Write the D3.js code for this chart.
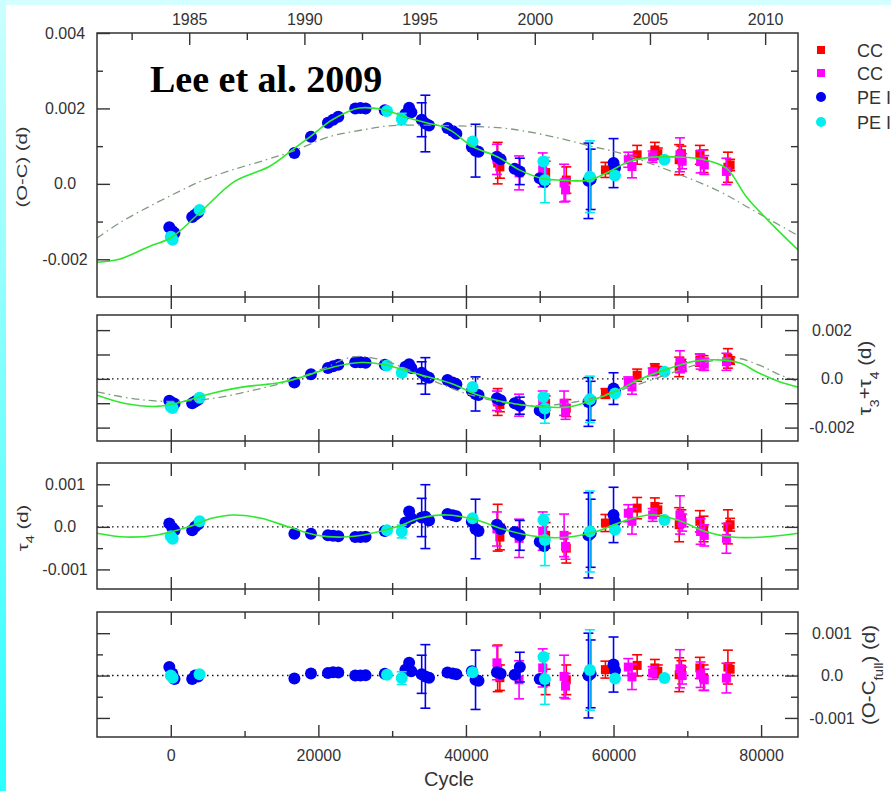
<!DOCTYPE html>
<html>
<head>
<meta charset="utf-8">
<script src="https://cdn.jsdelivr.net/npm/d3@7"></script>
<style>
html, body { margin: 0; padding: 0; background: #fff; }
svg { display: block; }
text { font-family: "Liberation Sans", Arial, Helvetica, sans-serif; fill: #333; }
</style>
</head>
<body>
<svg id="chart" width="891" height="791"></svg>
<script>
// ---- data (values in days) ----
const cycleDomain = [-10000, 85000];
const cycleMajor = [0, 20000, 40000, 60000, 80000];
const cycleMinor = [10000, 30000, 50000, 70000];
const yearMajor = [1985, 1990, 1995, 2000, 2005, 2010];
const yearMinor = [1982.5, 1987.5, 1992.5, 1997.5, 2002.5, 2007.5];
const epochYear = 1984.2, cyclesPerYear = 3122;

// CC (red squares)
const ccRedCycle = [44300, 44600, 50800, 53600, 58900, 63200, 65600, 66000, 68900, 69200, 71700, 72200, 75500, 75800];
const ccRedOC  = [0.55e-3, 0.45e-3, 0.30e-3, 0.10e-3, 0.37e-3, 0.77e-3, 0.90e-3, 0.80e-3, 0.64e-3, 0.80e-3, 0.77e-3, 0.60e-3, 0.44e-3, 0.50e-3];
const ccRedT34 = [-0.95e-3, -1.05e-3, -1.00e-3, -1.20e-3, -0.60e-3, 0.15e-3, 0.42e-3, 0.35e-3, 0.49e-3, 0.60e-3, 0.77e-3, 0.65e-3, 0.84e-3, 0.75e-3];
const ccRedT4  = [-0.02e-3, -0.24e-3, -0.20e-3, -0.50e-3, 0.09e-3, 0.44e-3, 0.48e-3, 0.40e-3, 0.05e-3, 0.20e-3, 0.13e-3, -0.05e-3, 0.00e-3, 0.05e-3];
const ccRedRes = [0.17e-3, -0.05e-3, -0.15e-3, -0.10e-3, 0.14e-3, 0.24e-3, 0.18e-3, 0.10e-3, 0.02e-3, 0.15e-3, 0.18e-3, -0.05e-3, 0.20e-3, 0.15e-3];
const ccRedErr = [0.55e-3, 0.30e-3, 0.30e-3, 0.35e-3, 0.20e-3, 0.25e-3, 0.20e-3, 0.15e-3, 0.40e-3, 0.20e-3, 0.25e-3, 0.30e-3, 0.40e-3, 0.15e-3];

// CC (magenta squares)
const ccMagCycle = [44200, 47200, 50400, 53300, 53500, 62000, 62500, 65300, 69000, 69300, 71800, 72300, 75300];
const ccMagOC  = [0.65e-3, 0.29e-3, 0.37e-3, 0.02e-3, -0.16e-3, 0.64e-3, 0.46e-3, 0.72e-3, 0.77e-3, 0.60e-3, 0.59e-3, 0.50e-3, 0.33e-3];
const ccMagT34 = [-0.90e-3, -1.08e-3, -0.95e-3, -1.00e-3, -1.36e-3, -0.12e-3, -0.33e-3, 0.29e-3, 0.70e-3, 0.50e-3, 0.70e-3, 0.60e-3, 0.70e-3];
const ccMagT4  = [-0.05e-3, -0.27e-3, -0.10e-3, -0.20e-3, -0.46e-3, 0.32e-3, 0.13e-3, 0.28e-3, 0.28e-3, 0.10e-3, -0.11e-3, -0.20e-3, -0.27e-3];
const ccMagRes = [0.30e-3, -0.10e-3, 0.18e-3, -0.02e-3, -0.25e-3, 0.20e-3, -0.03e-3, 0.06e-3, 0.16e-3, 0.00e-3, 0.02e-3, -0.10e-3, -0.06e-3];
const ccMagErr = [0.40e-3, 0.45e-3, 0.45e-3, 0.50e-3, 0.30e-3, 0.20e-3, 0.30e-3, 0.15e-3, 0.45e-3, 0.20e-3, 0.30e-3, 0.25e-3, 0.35e-3];

// PE (blue circles)
const peBlueCycle = [-200, 200, 500, 2900, 3300, 3700, 16750, 19000, 21300, 22000, 22700, 25000, 25700, 26400, 29000,
  31800, 32300, 32600, 34000, 34500, 35000, 37500, 38200, 38700, 40800, 41300, 41700, 44200, 44700, 46600, 47300,
  50000, 50600, 56600, 56900, 60000, 60200];
const peBlueOC = [-1.15e-3, -1.25e-3, -1.30e-3, -0.88e-3, -0.82e-3, -0.76e-3, 0.82e-3, 1.25e-3, 1.62e-3, 1.70e-3, 1.78e-3,
  2.00e-3, 2.01e-3, 2.00e-3, 1.95e-3, 1.85e-3, 2.02e-3, 1.90e-3, 1.70e-3, 1.60e-3, 1.55e-3, 1.48e-3, 1.40e-3, 1.33e-3,
  0.98e-3, 0.88e-3, 0.85e-3, 0.72e-3, 0.65e-3, 0.40e-3, 0.33e-3, 0.15e-3, 0.05e-3, 0.08e-3, 0.12e-3, 0.55e-3, 0.42e-3];
const peBlueT34 = [-0.90e-3, -0.98e-3, -1.02e-3, -1.00e-3, -0.93e-3, -0.86e-3, -0.15e-3, 0.19e-3, 0.45e-3, 0.52e-3, 0.58e-3,
  0.68e-3, 0.68e-3, 0.66e-3, 0.58e-3, 0.50e-3, 0.60e-3, 0.45e-3, 0.25e-3, 0.12e-3, 0.05e-3, -0.05e-3, -0.15e-3, -0.22e-3,
  -0.50e-3, -0.62e-3, -0.66e-3, -0.80e-3, -0.88e-3, -1.00e-3, -1.10e-3, -1.30e-3, -1.42e-3, -0.95e-3, -0.90e-3, -0.40e-3, -0.50e-3];
const peBlueT4 = [0.08e-3, -0.02e-3, -0.08e-3, -0.08e-3, 0.00e-3, 0.06e-3, -0.16e-3, -0.16e-3, -0.20e-3, -0.21e-3, -0.22e-3,
  -0.24e-3, -0.24e-3, -0.23e-3, -0.10e-3, 0.10e-3, 0.36e-3, 0.20e-3, 0.22e-3, 0.24e-3, 0.15e-3, 0.30e-3, 0.27e-3, 0.25e-3,
  0.12e-3, -0.05e-3, -0.10e-3, 0.05e-3, -0.05e-3, -0.12e-3, -0.20e-3, -0.35e-3, -0.45e-3, -0.20e-3, -0.15e-3, 0.28e-3, 0.12e-3];
const peBlueRes = [0.20e-3, 0.05e-3, -0.08e-3, -0.08e-3, 0.00e-3, -0.02e-3, -0.07e-3, 0.05e-3, 0.06e-3, 0.08e-3, 0.07e-3,
  0.00e-3, 0.00e-3, 0.01e-3, 0.04e-3, 0.14e-3, 0.30e-3, 0.10e-3, 0.03e-3, -0.02e-3, -0.05e-3, 0.07e-3, 0.05e-3, 0.03e-3,
  0.10e-3, -0.10e-3, -0.12e-3, 0.08e-3, 0.04e-3, 0.02e-3, 0.20e-3, -0.08e-3, -0.12e-3, 0.00e-3, 0.04e-3, 0.26e-3, 0.12e-3];
const peBlueErr = [0, 0, 0, 0, 0, 0, 0, 0, 0, 0, 0, 0, 0, 0, 0, 0, 0, 0, 0.45e-3, 0.75e-3, 0, 0, 0, 0,
  0, 0.70e-3, 0, 0, 0, 0, 0.35e-3, 0, 0, 1.00e-3, 0.80e-3, 0.65e-3, 0];

// PE (cyan circles)
const peCyanCycle = [0, 250, 3900, 29300, 31300, 40900, 50500, 50700, 56800, 60200, 66900];
const peCyanOC  = [-1.40e-3, -1.48e-3, -0.69e-3, 1.93e-3, 1.72e-3, 1.12e-3, 0.59e-3, 0.10e-3, 0.19e-3, 0.22e-3, 0.64e-3];
const peCyanT34 = [-1.15e-3, -1.20e-3, -0.78e-3, 0.55e-3, 0.25e-3, -0.33e-3, -0.74e-3, -1.22e-3, -0.84e-3, -0.60e-3, 0.29e-3];
const peCyanT4  = [-0.22e-3, -0.28e-3, 0.13e-3, -0.08e-3, -0.11e-3, 0.20e-3, 0.16e-3, -0.31e-3, -0.11e-3, -0.07e-3, 0.16e-3];
const peCyanRes = [0.00e-3, -0.05e-3, 0.03e-3, 0.02e-3, -0.06e-3, 0.08e-3, 0.44e-3, -0.08e-3, 0.13e-3, -0.07e-3, -0.06e-3];
const peCyanErr = [0, 0, 0, 0, 0.15e-3, 0, 0, 0.60e-3, 0.95e-3, 0, 0];

// fitted curves
const fitOCCycle = [-10000, -7000, -2900, 0, 3860, 8600, 13350, 16470, 18900, 21900, 25550, 28930, 31640, 34620, 36790,
  38150, 40860, 44250, 47230, 50210, 53600, 56720, 59430, 62140, 65260, 68920, 72030, 75280, 77990, 81110, 85000];
const fitOC = [-2.08e-3, -2.00e-3, -1.66e-3, -1.43e-3, -0.78e-3, 0.06e-3, 0.46e-3, 0.90e-3, 1.25e-3, 1.70e-3, 2.01e-3,
  1.96e-3, 1.78e-3, 1.62e-3, 1.52e-3, 1.39e-3, 0.99e-3, 0.72e-3, 0.37e-3, 0.15e-3, 0.09e-3, 0.10e-3, 0.33e-3, 0.59e-3,
  0.71e-3, 0.71e-3, 0.65e-3, 0.42e-3, -0.34e-3, -1.00e-3, -1.75e-3];
const longOCCycle = [-10000, -6980, -2910, 1150, 4540, 8340, 12950, 16470, 21490, 25960, 29620, 33690, 38700, 44940,
  48190, 52670, 57140, 60800, 68520, 74350, 78820, 85000];
const longOC = [-1.44e-3, -1.04e-3, -0.60e-3, -0.20e-3, 0.11e-3, 0.37e-3, 0.64e-3, 0.86e-3, 1.25e-3, 1.43e-3, 1.54e-3,
  1.56e-3, 1.54e-3, 1.48e-3, 1.39e-3, 1.21e-3, 0.99e-3, 0.82e-3, 0.28e-3, -0.20e-3, -0.69e-3, -1.37e-3];
const fitT34Cycle = [-10000, -6170, -1830, 1220, 5490, 9830, 14710, 17830, 22030, 25760, 28810, 33150, 38030, 41690,
  46570, 50300, 53970, 57050, 60130, 63800, 67470, 71140, 74860, 77400, 79300, 82400, 85000];
const fitT34 = [-0.67e-3, -1.01e-3, -1.13e-3, -0.97e-3, -0.60e-3, -0.33e-3, -0.16e-3, 0.08e-3, 0.49e-3, 0.67e-3, 0.59e-3,
  0.22e-3, -0.19e-3, -0.67e-3, -1.02e-3, -1.15e-3, -1.15e-3, -0.88e-3, -0.53e-3, 0.01e-3, 0.42e-3, 0.73e-3, 0.77e-3,
  0.62e-3, 0.30e-3, -0.11e-3, -0.34e-3];
const fitT3Cycle = [-10000, -4950, 0, 5290, 10710, 16130, 20880, 24670, 28330, 32400, 36470, 40530, 45280, 50020, 54770,
  58840, 62630, 66970, 71720, 76460, 79850, 82560, 85000];
const fitT3 = [-0.53e-3, -0.82e-3, -0.93e-3, -0.82e-3, -0.50e-3, -0.08e-3, 0.45e-3, 0.90e-3, 0.80e-3, 0.35e-3, -0.20e-3,
  -0.65e-3, -0.98e-3, -1.10e-3, -0.95e-3, -0.65e-3, -0.30e-3, 0.15e-3, 0.62e-3, 0.86e-3, 0.55e-3, 0.16e-3, -0.11e-3];
const fitT4Cycle = [-10000, -6130, -1830, 2440, 5520, 8580, 12270, 15930, 19590, 23280, 26950, 30640, 33700, 37390, 41070,
  45370, 49670, 53970, 57650, 61340, 65010, 68700, 72390, 76060, 80360, 85000];
const fitT4 = [-0.15e-3, -0.24e-3, -0.19e-3, 0.00e-3, 0.20e-3, 0.28e-3, 0.20e-3, 0.00e-3, -0.19e-3, -0.24e-3, -0.16e-3,
  0.00e-3, 0.20e-3, 0.28e-3, 0.18e-3, -0.07e-3, -0.23e-3, -0.24e-3, -0.11e-3, 0.13e-3, 0.28e-3, 0.16e-3, -0.11e-3,
  -0.24e-3, -0.24e-3, -0.15e-3];

// ---- drawing ----
const svg = d3.select('#chart');
const FONT = '"Liberation Sans", Arial, Helvetica, sans-serif';
const AX = '#333';

// cyan frame strips of the slide
const grad = svg.append('defs').append('linearGradient').attr('id', 'strip')
  .attr('x1', 0).attr('y1', 0).attr('x2', 0).attr('y2', 1);
grad.append('stop').attr('offset', 0).attr('stop-color', '#ccffff');
grad.append('stop').attr('offset', 1).attr('stop-color', '#2bffff');
svg.append('rect').attr('x', 0).attr('y', 0).attr('width', 891).attr('height', 5).attr('fill', '#d4ffff');
svg.append('rect').attr('x', 0).attr('y', 0).attr('width', 6).attr('height', 791).attr('fill', 'url(#strip)');

const x = d3.scaleLinear().domain(cycleDomain).range([97, 798]);
const yearOf = c => epochYear + c / cyclesPerYear;
const xYear = d3.scaleLinear().domain(cycleDomain.map(yearOf)).range([97, 798]);

const series = [
  { color: '#ff0000', shape: 'square', cycle: ccRedCycle, oc: ccRedOC, t34: ccRedT34, t4: ccRedT4, res: ccRedRes, err: ccRedErr },
  { color: '#ff00ff', shape: 'square', cycle: ccMagCycle, oc: ccMagOC, t34: ccMagT34, t4: ccMagT4, res: ccMagRes, err: ccMagErr },
  { color: '#0000ee', shape: 'circle', cycle: peBlueCycle, oc: peBlueOC, t34: peBlueT34, t4: peBlueT4, res: peBlueRes, err: peBlueErr },
  { color: '#00eeee', shape: 'circle', cycle: peCyanCycle, oc: peCyanOC, t34: peCyanT34, t4: peCyanT4, res: peCyanRes, err: peCyanErr }
];

const fmt = d => d === 0 ? '0.0' : d.toFixed(3);

const panels = [
  { key: 'oc', top: 33, bottom: 297, domain: [-0.003, 0.004],
    leftMajor: [-0.002, 0, 0.002, 0.004], leftMinor: [-0.001, 0.001, 0.003], leftLabels: true,
    rightMajor: [], rightMinor: [-0.002, -0.001, 0, 0.001, 0.002, 0.003], rightLabels: false,
    zero: false, curves: [{ c: longOCCycle, v: longOC, dash: true }, { c: fitOCCycle, v: fitOC }] },
  { key: 't34', top: 315, bottom: 441, domain: [-0.00255, 0.00262],
    leftMajor: [-0.002, -0.001, 0, 0.001, 0.002], leftMinor: [], leftLabels: false,
    rightMajor: [-0.002, -0.001, 0, 0.001, 0.002], rightMinor: [], rightLabels: [-0.002, 0, 0.002],
    zero: true, curves: [{ c: fitT3Cycle, v: fitT3, dash: true }, { c: fitT34Cycle, v: fitT34 }] },
  { key: 't4', top: 463, bottom: 589, domain: [-0.00146, 0.0015],
    leftMajor: [-0.001, 0, 0.001], leftMinor: [-0.0005, 0.0005], leftLabels: true,
    rightMajor: [-0.001, -0.0005, 0, 0.0005, 0.001], rightMinor: [], rightLabels: false,
    zero: true, curves: [{ c: fitT4Cycle, v: fitT4 }] },
  { key: 'res', top: 612, bottom: 737, domain: [-0.00145, 0.0015],
    leftMajor: [-0.001, 0, 0.001], leftMinor: [-0.0005, 0.0005], leftLabels: false,
    rightMajor: [-0.001, 0, 0.001], rightMinor: [-0.0005, 0.0005], rightLabels: [-0.001, 0, 0.001],
    zero: true, curves: [] }
];

function styleAxis(a) {
  a.select('.domain').remove();
  a.attr('font-family', FONT).attr('font-size', 16);
  a.selectAll('line').attr('stroke', AX).attr('stroke-width', 1.4);
  a.selectAll('text').attr('fill', AX);
  return a;
}
function addAxis(gen, tx, ty) {
  return styleAxis(svg.append('g').attr('transform', `translate(${tx},${ty})`).call(gen));
}

panels.forEach((p, i) => {
  const y = d3.scaleLinear().domain(p.domain).range([p.bottom, p.top]);
  const last = i === panels.length - 1;

  svg.append('clipPath').attr('id', 'clip' + i).append('rect')
    .attr('x', 97).attr('y', p.top).attr('width', 701).attr('height', p.bottom - p.top);

  if (p.zero) {
    svg.append('line').attr('x1', 97).attr('x2', 798).attr('y1', y(0)).attr('y2', y(0))
      .attr('stroke', '#111').attr('stroke-width', 1.4).attr('stroke-dasharray', '1.5,3.5');
  }

  // points with error bars
  const g = svg.append('g').attr('clip-path', `url(#clip${i})`);
  series.forEach(s => {
    const pts = s.cycle.map((c, j) => ({ c, v: s[p.key][j], e: s.err[j] }));
    const eb = g.append('g').attr('stroke', s.color).attr('stroke-width', 1.6);
    pts.filter(d => d.e > 0).forEach(d => {
      const cx = x(d.c), y0 = y(d.v - d.e), y1 = y(d.v + d.e);
      eb.append('line').attr('x1', cx).attr('x2', cx).attr('y1', y0).attr('y2', y1);
      eb.append('line').attr('x1', cx - 5).attr('x2', cx + 5).attr('y1', y0).attr('y2', y0);
      eb.append('line').attr('x1', cx - 5).attr('x2', cx + 5).attr('y1', y1).attr('y2', y1);
    });
    if (s.shape === 'square') {
      g.selectAll(null).data(pts).enter().append('rect')
        .attr('x', d => x(d.c) - 4.5).attr('y', d => y(d.v) - 4.5)
        .attr('width', 9).attr('height', 9).attr('fill', s.color);
    } else {
      g.selectAll(null).data(pts).enter().append('circle')
        .attr('cx', d => x(d.c)).attr('cy', d => y(d.v)).attr('r', 6)
        .attr('fill', s.color);
    }
  });

  // fitted curves
  const line = d3.line().x(d => x(d[0])).y(d => y(d[1])).curve(d3.curveCatmullRom.alpha(0.5));
  p.curves.forEach(cv => {
    g.append('path').datum(cv.c.map((c, j) => [c, cv.v[j]]))
      .attr('d', line).attr('fill', 'none')
      .attr('stroke', cv.dash ? '#809a80' : '#2ee82e')
      .attr('stroke-width', cv.dash ? 1.3 : 1.6)
      .attr('stroke-dasharray', cv.dash ? '8,4,1.5,4' : null);
  });

  // frame
  svg.append('rect').attr('x', 97).attr('y', p.top).attr('width', 701).attr('height', p.bottom - p.top)
    .attr('fill', 'none').attr('stroke', AX).attr('stroke-width', 1.5);

  // top axis: years on the first panel, cycles elsewhere
  if (i === 0) {
    const a = addAxis(d3.axisTop(xYear).tickValues(yearMajor).tickSize(-12).tickPadding(8).tickFormat(d3.format('d')), 0, p.top);
    a.selectAll('text').attr('y', -8);
    addAxis(d3.axisTop(xYear).tickValues(yearMinor).tickSize(-7).tickFormat(''), 0, p.top);
  } else {
    addAxis(d3.axisTop(x).tickValues(cycleMajor).tickSize(-13).tickFormat(''), 0, p.top);
    addAxis(d3.axisTop(x).tickValues(cycleMinor).tickSize(-7).tickFormat(''), 0, p.top);
  }

  // bottom axis: ticks cross the frame except on the last panel
  if (last) {
    addAxis(d3.axisBottom(x).tickValues(cycleMajor).tickSize(-12).tickPadding(13).tickFormat(d3.format('d')), 0, p.bottom);
    addAxis(d3.axisBottom(x).tickValues(cycleMinor).tickSize(-6).tickFormat(''), 0, p.bottom);
  } else {
    addAxis(d3.axisBottom(x).tickValues(cycleMajor).tickSize(-12).tickFormat(''), 0, p.bottom);
    addAxis(d3.axisBottom(x).tickValues(cycleMajor).tickSize(12).tickFormat(''), 0, p.bottom);
    addAxis(d3.axisBottom(x).tickValues(cycleMinor).tickSize(-6).tickFormat(''), 0, p.bottom);
    addAxis(d3.axisBottom(x).tickValues(cycleMinor).tickSize(6).tickFormat(''), 0, p.bottom);
  }

  // left axis
  const la = addAxis(d3.axisLeft(y).tickValues(p.leftMajor).tickSize(-13)
    .tickFormat(p.leftLabels ? fmt : ''), 97, 0);
  la.selectAll('text').attr('x', 65 - 97).attr('text-anchor', 'middle');
  if (p.leftMinor.length) addAxis(d3.axisLeft(y).tickValues(p.leftMinor).tickSize(-6).tickFormat(''), 97, 0);

  // right axis
  if (p.rightMajor.length) addAxis(d3.axisRight(y).tickValues(p.rightMajor).tickSize(-13).tickFormat(''), 798, 0);
  if (p.rightMinor.length) addAxis(d3.axisRight(y).tickValues(p.rightMinor).tickSize(-7).tickFormat(''), 798, 0);
  if (p.rightLabels) {
    const ra = addAxis(d3.axisRight(y).tickValues(p.rightLabels).tickSize(0).tickFormat(fmt), 798, 0);
    ra.selectAll('text').attr('x', 832 - 798).attr('text-anchor', 'middle');
  }
});

// title
svg.append('text').attr('x', 150).attr('y', 92)
  .style('font-family', '"Liberation Serif", "Times New Roman", serif')
  .style('font-weight', 'bold').style('font-size', '38px').style('fill', '#000')
  .text('Lee et al. 2009');

// axis titles
function vlabel(tx, ty, size, stretch, parts) {
  const t = svg.append('text')
    .attr('transform', `translate(${tx},${ty}) rotate(-90) scale(${stretch},1)`)
    .attr('text-anchor', 'middle').style('font-size', size + 'px');
  parts.forEach(([s, sub]) => {
    const ts = t.append('tspan').text(s);
    if (sub) ts.attr('baseline-shift', 'sub').style('font-size', Math.round(size * 0.68) + 'px');
  });
}
vlabel(27, 167, 14, 1.45, [['(O-C) (d)']]);
vlabel(28, 528, 14, 1.45, [['τ'], ['4', true], [' (d)']]);
vlabel(871, 378, 19, 1.08, [['τ'], ['3', true], ['+τ'], ['4', true], [' (d)']]);
vlabel(875, 675, 19, 1.08, [['(O-C'], ['full', true], [') (d)']]);

svg.append('text').attr('x', 449).attr('y', 786).attr('text-anchor', 'middle')
  .style('font-size', '20px').text('Cycle');

// legend (cut off by the right edge, as in the figure)
const legendLabels = ['CC', 'CC', 'PE I', 'PE I'];
const legendY = [50, 73, 97, 122];
series.forEach((s, i) => {
  if (s.shape === 'square') {
    svg.append('rect').attr('x', 817).attr('y', legendY[i] - 4).attr('width', 8).attr('height', 8).attr('fill', s.color);
  } else {
    svg.append('circle').attr('cx', 821).attr('cy', legendY[i]).attr('r', 5).attr('fill', s.color);
  }
  svg.append('text').attr('x', 857).attr('y', legendY[i] + 6.5).style('font-size', '18px').text(legendLabels[i]);
});
</script>
</body>
</html>
